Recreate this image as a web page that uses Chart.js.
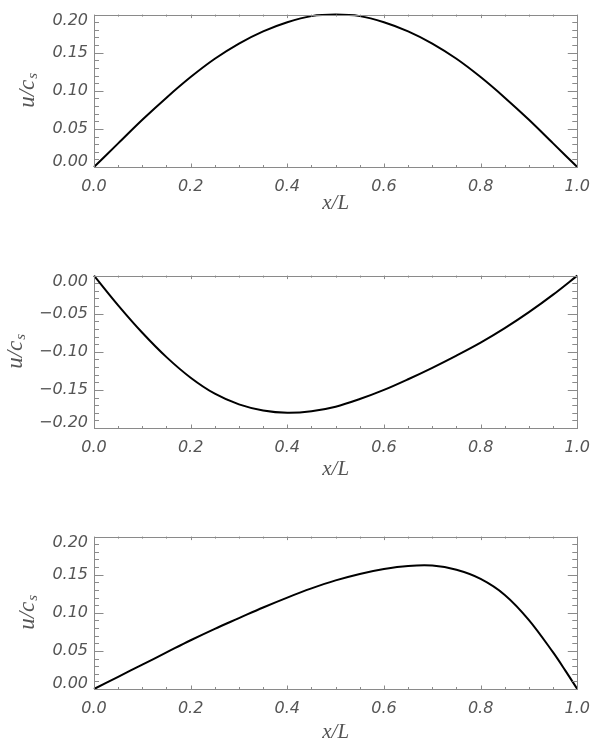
<!DOCTYPE html>
<html>
<head>
<meta charset="utf-8">
<script src="https://cdn.jsdelivr.net/npm/chart.js@4.4.1/dist/chart.umd.min.js"></script>
<style>
  html, body { margin: 0; padding: 0; background: #fff; overflow: hidden; }
  body { width: 600px; height: 741px; position: relative; }
  .panel { position: absolute; left: 0; width: 600px; height: 220px; }
</style>
</head>
<body>
<div class="panel" style="top:-1px"><canvas id="c1"></canvas></div>
<div class="panel" style="top:260px"><canvas id="c2"></canvas></div>
<div class="panel" style="top:521px"><canvas id="c3"></canvas></div>
<script>
(function () {
    'use strict';

    // ── DATA ───────────────────────────────────────────────────────────────
    const X_GRID = [0.00, 0.05, 0.10, 0.15, 0.20, 0.25, 0.30, 0.35, 0.40, 0.45, 0.50,
                    0.55, 0.60, 0.65, 0.70, 0.75, 0.80, 0.85, 0.90, 0.95, 1.00];

    const U_TOP = [0.000, 0.031, 0.062, 0.091, 0.118, 0.142, 0.162, 0.178, 0.190, 0.198, 0.200,
                   0.198, 0.190, 0.178, 0.162, 0.142, 0.118, 0.091, 0.062, 0.031, 0.000];

    const U_MID = [0.000, -0.039, -0.075, -0.107, -0.134, -0.155, -0.169, -0.177, -0.180, -0.178, -0.172,
                   -0.162, -0.150, -0.136, -0.121, -0.105, -0.088, -0.069, -0.048, -0.025, 0.000];

    const X_BOT = [0.00, 0.05, 0.10, 0.15, 0.20, 0.25, 0.30, 0.35, 0.40, 0.45, 0.50,
                   0.55, 0.60, 0.65, 0.70, 0.75, 0.80, 0.85, 0.90, 0.95, 0.975, 1.00];
    const U_BOT = [0.000, 0.016, 0.032, 0.048, 0.064, 0.079, 0.093, 0.107, 0.120, 0.132, 0.1425,
                   0.151, 0.1575, 0.1615, 0.162, 0.1565, 0.1445, 0.1235, 0.0905, 0.048, 0.0245, 0.000];

    const X_TICKS = ['0.0', '0.2', '0.4', '0.6', '0.8', '1.0'];

    // ── STYLE ──────────────────────────────────────────────────────────────
    const FRAME = '#8a8a8a';
    const TEXT  = '#555555';
    const TICK_FONT = { family: "'DejaVu Sans', sans-serif", size: 16, style: 'italic', weight: '200' };
    const SERIF = "'Liberation Serif', serif";

    // inward IDL-style ticks on all four sides + box frame
    const frameTicks = {
        id: 'frameTicks',
        afterDraw(chart) {
            const { ctx, chartArea: a, scales: { x, y } } = chart;
            ctx.save();
            ctx.strokeStyle = FRAME;
            ctx.lineWidth = 1;
            ctx.beginPath();
            const xs = 0.05;
            for (let i = 0; i <= Math.round((x.max - x.min) / xs); i++) {
                const v = x.min + i * xs;
                const px = Math.round(x.getPixelForValue(v)) + 0.5;
                const len = (i % 4 === 0) ? 3.5 : 2;
                ctx.moveTo(px, a.bottom); ctx.lineTo(px, a.bottom - len);
                ctx.moveTo(px, a.top);    ctx.lineTo(px, a.top + len);
            }
            const ys = 0.01;
            const y0 = Math.ceil(y.min / ys - 1e-6);
            const y1 = Math.floor(y.max / ys + 1e-6);
            for (let k = y0; k <= y1; k++) {
                const py = Math.round(y.getPixelForValue(k * ys)) + 0.5;
                const len = (k % 5 === 0) ? 9.5 : 5;
                ctx.moveTo(a.left, py);  ctx.lineTo(a.left + len, py);
                ctx.moveTo(a.right, py); ctx.lineTo(a.right - len, py);
            }
            ctx.stroke();
            ctx.strokeRect(Math.round(a.left) + 0.5, Math.round(a.top) + 0.5,
                           Math.round(a.right - a.left), Math.round(a.bottom - a.top));
            ctx.restore();
        }
    };

    // axis titles: x/L under the plot, u/c_s rotated on the left
    const axisTitles = {
        id: 'axisTitles',
        afterDraw(chart, args, opts) {
            const { ctx, chartArea: a } = chart;
            ctx.save();
            ctx.fillStyle = TEXT;
            ctx.textBaseline = 'middle';

            ctx.font = `italic 21px ${SERIF}`;
            ctx.textAlign = 'center';
            ctx.fillText('x/L', (a.left + a.right) / 2, a.bottom + opts.xOffset);

            ctx.translate(opts.yX, (a.top + a.bottom) / 2);
            ctx.rotate(-Math.PI / 2);
            const main = 'u/c';
            ctx.font = `italic 23px ${SERIF}`;
            const wMain = ctx.measureText(main).width;
            ctx.font = `italic 15px ${SERIF}`;
            const wSub = ctx.measureText('s').width;
            const start = -(wMain + wSub) / 2;
            ctx.textAlign = 'left';
            ctx.font = `italic 23px ${SERIF}`;
            ctx.fillText(main, start, 0);
            ctx.font = `italic 15px ${SERIF}`;
            ctx.fillText('s', start + wMain + 1, 5);
            ctx.restore();
        }
    };

    // IDL keeps the end labels of the y axis inside the plot box
    function clampEndLabels(scale) {
        if (scale._clampWrapped) return;
        scale._clampWrapped = true;
        const orig = scale._computeLabelItems;
        scale._computeLabelItems = function (ca) {
            const items = orig.call(this, ca);
            items.forEach(it => {
                const t = it.options.translation;
                t[1] = Math.min(Math.max(t[1], this.top + 6.5), this.bottom - 5);
            });
            return items;
        };
    }

    function makePanel(id, xs, ys, yMin, yMax, yTitleX, xTitleOff) {
        new Chart(document.getElementById(id), {
            type: 'line',
            data: {
                datasets: [{
                    data: xs.map((x, i) => ({ x, y: ys[i] })),
                    borderColor: '#000',
                    borderWidth: 2,
                    pointRadius: 0,
                    tension: 0.35,
                    fill: false,
                    clip: false
                }]
            },
            options: {
                responsive: true,
                maintainAspectRatio: false,
                animation: false,
                layout: { padding: { top: 6, right: 14, left: 0, bottom: 0 } },
                plugins: {
                    legend: { display: false },
                    tooltip: { enabled: false },
                    axisTitles: { yX: yTitleX, xOffset: xTitleOff }
                },
                scales: {
                    x: {
                        type: 'linear',
                        min: 0, max: 1,
                        grid: { display: false, drawTicks: false },
                        border: { display: false },
                        ticks: {
                            stepSize: 0.2,
                            padding: 10,
                            maxRotation: 0,
                            color: TEXT,
                            font: TICK_FONT,
                            callback: (v, i) => X_TICKS[i]
                        },
                        afterFit: s => { s.height = 52; }
                    },
                    y: {
                        min: yMin, max: yMax,
                        grid: { display: false, drawTicks: false },
                        border: { display: false },
                        ticks: {
                            stepSize: 0.05,
                            padding: 6,
                            color: TEXT,
                            font: TICK_FONT,
                            callback: v => v.toFixed(2).replace('-', '\u2212')
                        },
                        afterFit: s => { s.width = 94; clampEndLabels(s); }
                    }
                }
            },
            plugins: [frameTicks, axisTitles]
        });
    }

    makePanel('c1', X_GRID, U_TOP, 0, 0.2, 28, 36);
    makePanel('c2', X_GRID, U_MID, -0.2, 0, 16, 41);
    makePanel('c3', X_BOT, U_BOT, 0, 0.2, 28, 43);

})();
</script>
</body>
</html>
